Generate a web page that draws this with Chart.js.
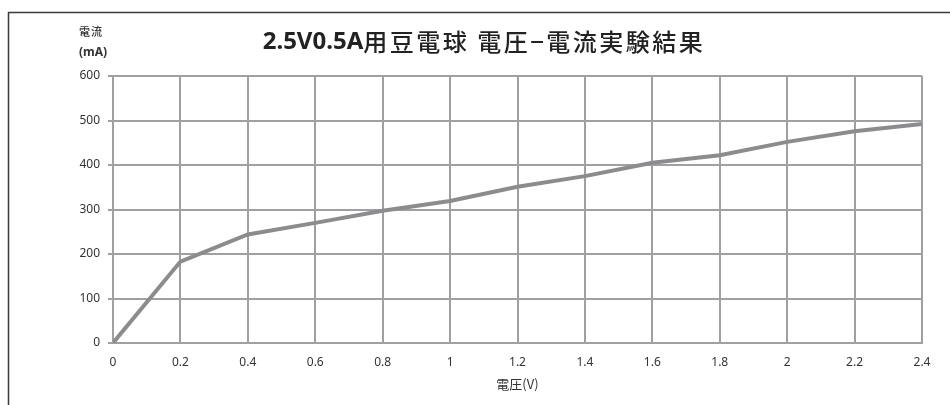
<!DOCTYPE html>
<html>
<head>
<meta charset="utf-8">
<script src="https://cdn.jsdelivr.net/npm/chart.js@4"></script>
<style>
  html, body { margin: 0; padding: 0; background: #fff; }
  #wrap { width: 950px; height: 405px; position: relative; }
</style>
</head>
<body>
<div id="wrap"><canvas id="c" width="950" height="405"></canvas></div>
<script>
// 電圧 (V) と 電流 (mA) の測定値
const voltages = [0, 0.2, 0.4, 0.6, 0.8, 1.0, 1.2, 1.4, 1.6, 1.8, 2.0, 2.2, 2.4];
const currents = [0, 183, 244, 270, 297, 319, 351, 375, 405, 422, 452, 476, 492];
const xTickValues = [0, 0.2, 0.4, 0.6, 0.8, 1, 1.2, 1.4, 1.6, 1.8, 2, 2.2, 2.4];
const xTickLabels = ['0', '0.2', '0.4', '0.6', '0.8', '1', '1.2', '1.4', '1.6', '1.8', '2', '2.2', '2.4'];
const yTickValues = [0, 100, 200, 300, 400, 500, 600];
const yTickLabels = ['0', '100', '200', '300', '400', '500', '600'];

const titleText = '2.5V0.5A用豆電球 電圧−電流実験結果';
const yTitleLines = ['電流', '(mA)'];
const xTitleText = '電圧(V)';

const FONT = '"Noto Sans", "Noto Sans CJK JP", sans-serif';
const CJK = '"Noto Sans CJK JP", "Noto Sans", sans-serif';
const GRID = '#a0a0a3';

const points = voltages.map((v, i) => ({ x: v, y: currents[i] }));

// Frame lines and titles drawn around the plot
const decorations = {
  id: 'decorations',
  afterDraw(chart) {
    const ctx = chart.ctx;
    const area = chart.chartArea;
    ctx.save();
    ctx.strokeStyle = '#3a3a3a';
    ctx.lineWidth = 1.5;
    ctx.beginPath();
    ctx.moveTo(8.5, 405);
    ctx.lineTo(8.5, 12.5);
    ctx.lineTo(950, 12.5);
    ctx.stroke();

    // Title: Latin prefix in bold, Japanese part in medium weight
    const split = titleText.indexOf('用');
    const head = titleText.slice(0, split);
    const tail = titleText.slice(split);
    ctx.fillStyle = '#222';
    ctx.textBaseline = 'middle';
    ctx.textAlign = 'left';
    ctx.font = 'bold 24px ' + FONT;
    const headW = ctx.measureText(head).width;
    ctx.font = '500 24px ' + CJK;
    ctx.letterSpacing = '2.5px';
    const tailW = ctx.measureText(tail).width;
    const startX = 484 - (headW + tailW) / 2;
    ctx.letterSpacing = '0px';
    ctx.font = 'bold 24px ' + FONT;
    ctx.fillText(head, startX, 42);
    ctx.font = '500 24px ' + CJK;
    ctx.letterSpacing = '2.5px';
    ctx.fillText(tail, startX + headW, 42);
    ctx.letterSpacing = '0px';

    ctx.fillStyle = '#333';
    ctx.textAlign = 'left';
    ctx.font = '500 11px ' + CJK;
    ctx.letterSpacing = '1px';
    ctx.fillText(yTitleLines[0], 79, 32);
    ctx.letterSpacing = '0px';
    ctx.font = 'bold 12px ' + FONT;
    ctx.fillText(yTitleLines[1], 79, 53);

    ctx.textAlign = 'center';
    ctx.font = '13px ' + CJK;
    ctx.fillText(xTitleText, (area.left + area.right) / 2, 384);
    ctx.restore();
  }
};

new Chart(document.getElementById('c'), {
  type: 'line',
  data: {
    datasets: [{
      data: points,
      borderColor: '#8c8c8e',
      borderWidth: 4,
      pointRadius: 0,
      tension: 0,
      fill: false
    }]
  },
  options: {
    responsive: false,
    animation: false,
    devicePixelRatio: 1,
    layout: { padding: { left: 0, right: 28, top: 76, bottom: 0 } },
    plugins: { legend: { display: false }, tooltip: { enabled: false } },
    scales: {
      x: {
        type: 'linear',
        min: 0,
        max: 2.4,
        afterBuildTicks(scale) {
          scale.ticks = xTickValues.map(v => ({ value: v }));
        },
        afterFit(scale) { scale.height = 62; },
        ticks: {
          callback(value, index) { return xTickLabels[index]; },
          color: '#333',
          font: { family: FONT, size: 12 },
          padding: 12,
          maxRotation: 0,
          autoSkip: false
        },
        grid: { color: GRID, lineWidth: 2, drawTicks: false },
        border: { color: GRID, width: 2 }
      },
      y: {
        min: 0,
        max: 600,
        afterBuildTicks(scale) {
          scale.ticks = yTickValues.map(v => ({ value: v }));
        },
        afterFit(scale) { scale.width = 113; },
        ticks: {
          callback(value, index) { return yTickLabels[index]; },
          color: '#333',
          font: { family: FONT, size: 12 },
          padding: 8
        },
        grid: { color: GRID, lineWidth: 2, tickLength: 5 },
        border: { color: GRID, width: 2 }
      }
    }
  },
  plugins: [decorations]
});
</script>
</body>
</html>
